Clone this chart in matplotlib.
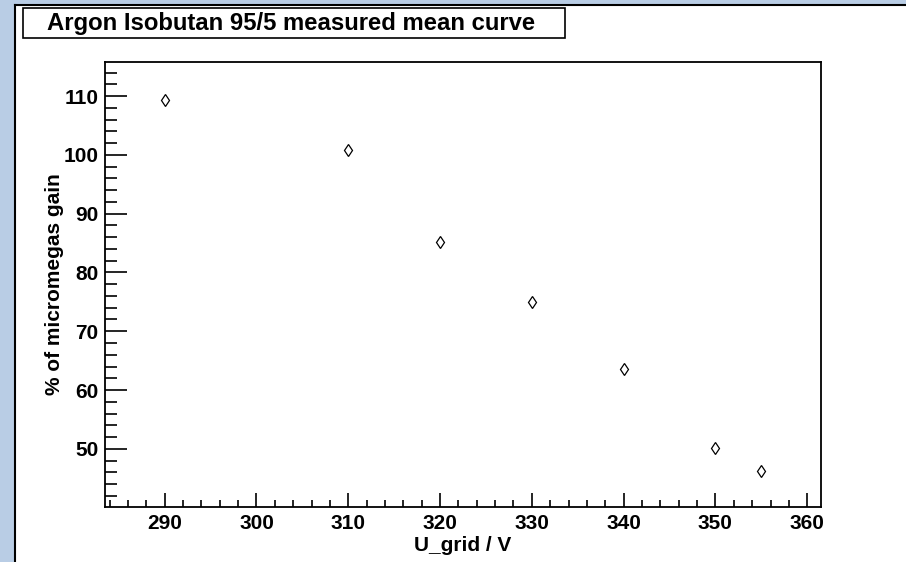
import matplotlib
matplotlib.use("Agg")
import matplotlib.pyplot as plt
from matplotlib.patches import Rectangle
from matplotlib.ticker import MultipleLocator

u_grid = [290, 310, 320, 330, 340, 350, 355]
gain_pct = [109.3, 100.8, 85.2, 74.9, 63.5, 50.2, 46.2]
gain_err = [0.5, 0.5, 0.5, 0.5, 0.5, 0.5, 0.5]

title = "Argon Isobutan 95/5 measured mean curve"
x_title = "U_grid / V"
y_title = "% of micromegas gain"

W, H = 906, 562
plt.rcParams['font.family'] = ['Liberation Sans', 'DejaVu Sans']
plt.rcParams['font.weight'] = 'bold'

fig = plt.figure(figsize=(W / 100, H / 100), dpi=100)
fig.patch.set_facecolor('#b9cde5')

# white canvas with dark top/left edge
fig.add_artist(Rectangle((15 / W, 0), 1 - 15 / W, 1 - 5 / H, transform=fig.transFigure,
                         facecolor='white', edgecolor='none', zorder=-5))
fig.add_artist(plt.Line2D([15 / W, 1], [1 - 5 / H, 1 - 5 / H], transform=fig.transFigure,
                          color='black', lw=1.5, zorder=-4))
fig.add_artist(plt.Line2D([15 / W, 15 / W], [0, 1 - 5 / H], transform=fig.transFigure,
                          color='black', lw=1.5, zorder=-4))

left, right, top, bottom = 105, 821, 62, 507
ax = fig.add_axes([left / W, 1 - bottom / H, (right - left) / W, (bottom - top) / H])
ax.set_facecolor('white')

# title box
fig.add_artist(Rectangle((23 / W, 1 - 38 / H), (565 - 23) / W, 30 / H, transform=fig.transFigure,
                         facecolor='white', edgecolor='black', lw=1.2, zorder=3))
fig.text(47 / W, 1 - 23.5 / H, title, ha='left', va='center', fontsize=17.2,
         fontweight='bold', zorder=4)

ax.errorbar(u_grid, gain_pct, yerr=gain_err, fmt='d', markersize=6.5,
            markerfacecolor='white', markeredgecolor='black', markeredgewidth=0.9,
            ecolor='black', elinewidth=0.8, capsize=0)

ax.set_xlim(283.5, 361.5)
ax.set_ylim(40.1, 115.8)

ax.xaxis.set_major_locator(MultipleLocator(10))
ax.xaxis.set_minor_locator(MultipleLocator(2))
ax.yaxis.set_major_locator(MultipleLocator(10))
ax.yaxis.set_minor_locator(MultipleLocator(2))

ax.tick_params(axis='both', which='both', direction='in', top=False, right=False,
               labelsize=15, width=1.2, colors='black')
ax.tick_params(axis='x', which='major', length=10, pad=5)
ax.tick_params(axis='x', which='minor', length=5)
ax.tick_params(axis='y', which='major', length=16, pad=4.5)
ax.tick_params(axis='y', which='minor', length=8.5)
for lab in ax.get_xticklabels() + ax.get_yticklabels():
    lab.set_fontweight('bold')

for sp in ax.spines.values():
    sp.set_linewidth(1.3)

ax.set_xlabel(x_title, fontsize=15, fontweight='bold', labelpad=2)
ax.set_ylabel(y_title, fontsize=15, fontweight='bold', labelpad=0)

fig.savefig('out.png', dpi=100, facecolor=fig.get_facecolor())
